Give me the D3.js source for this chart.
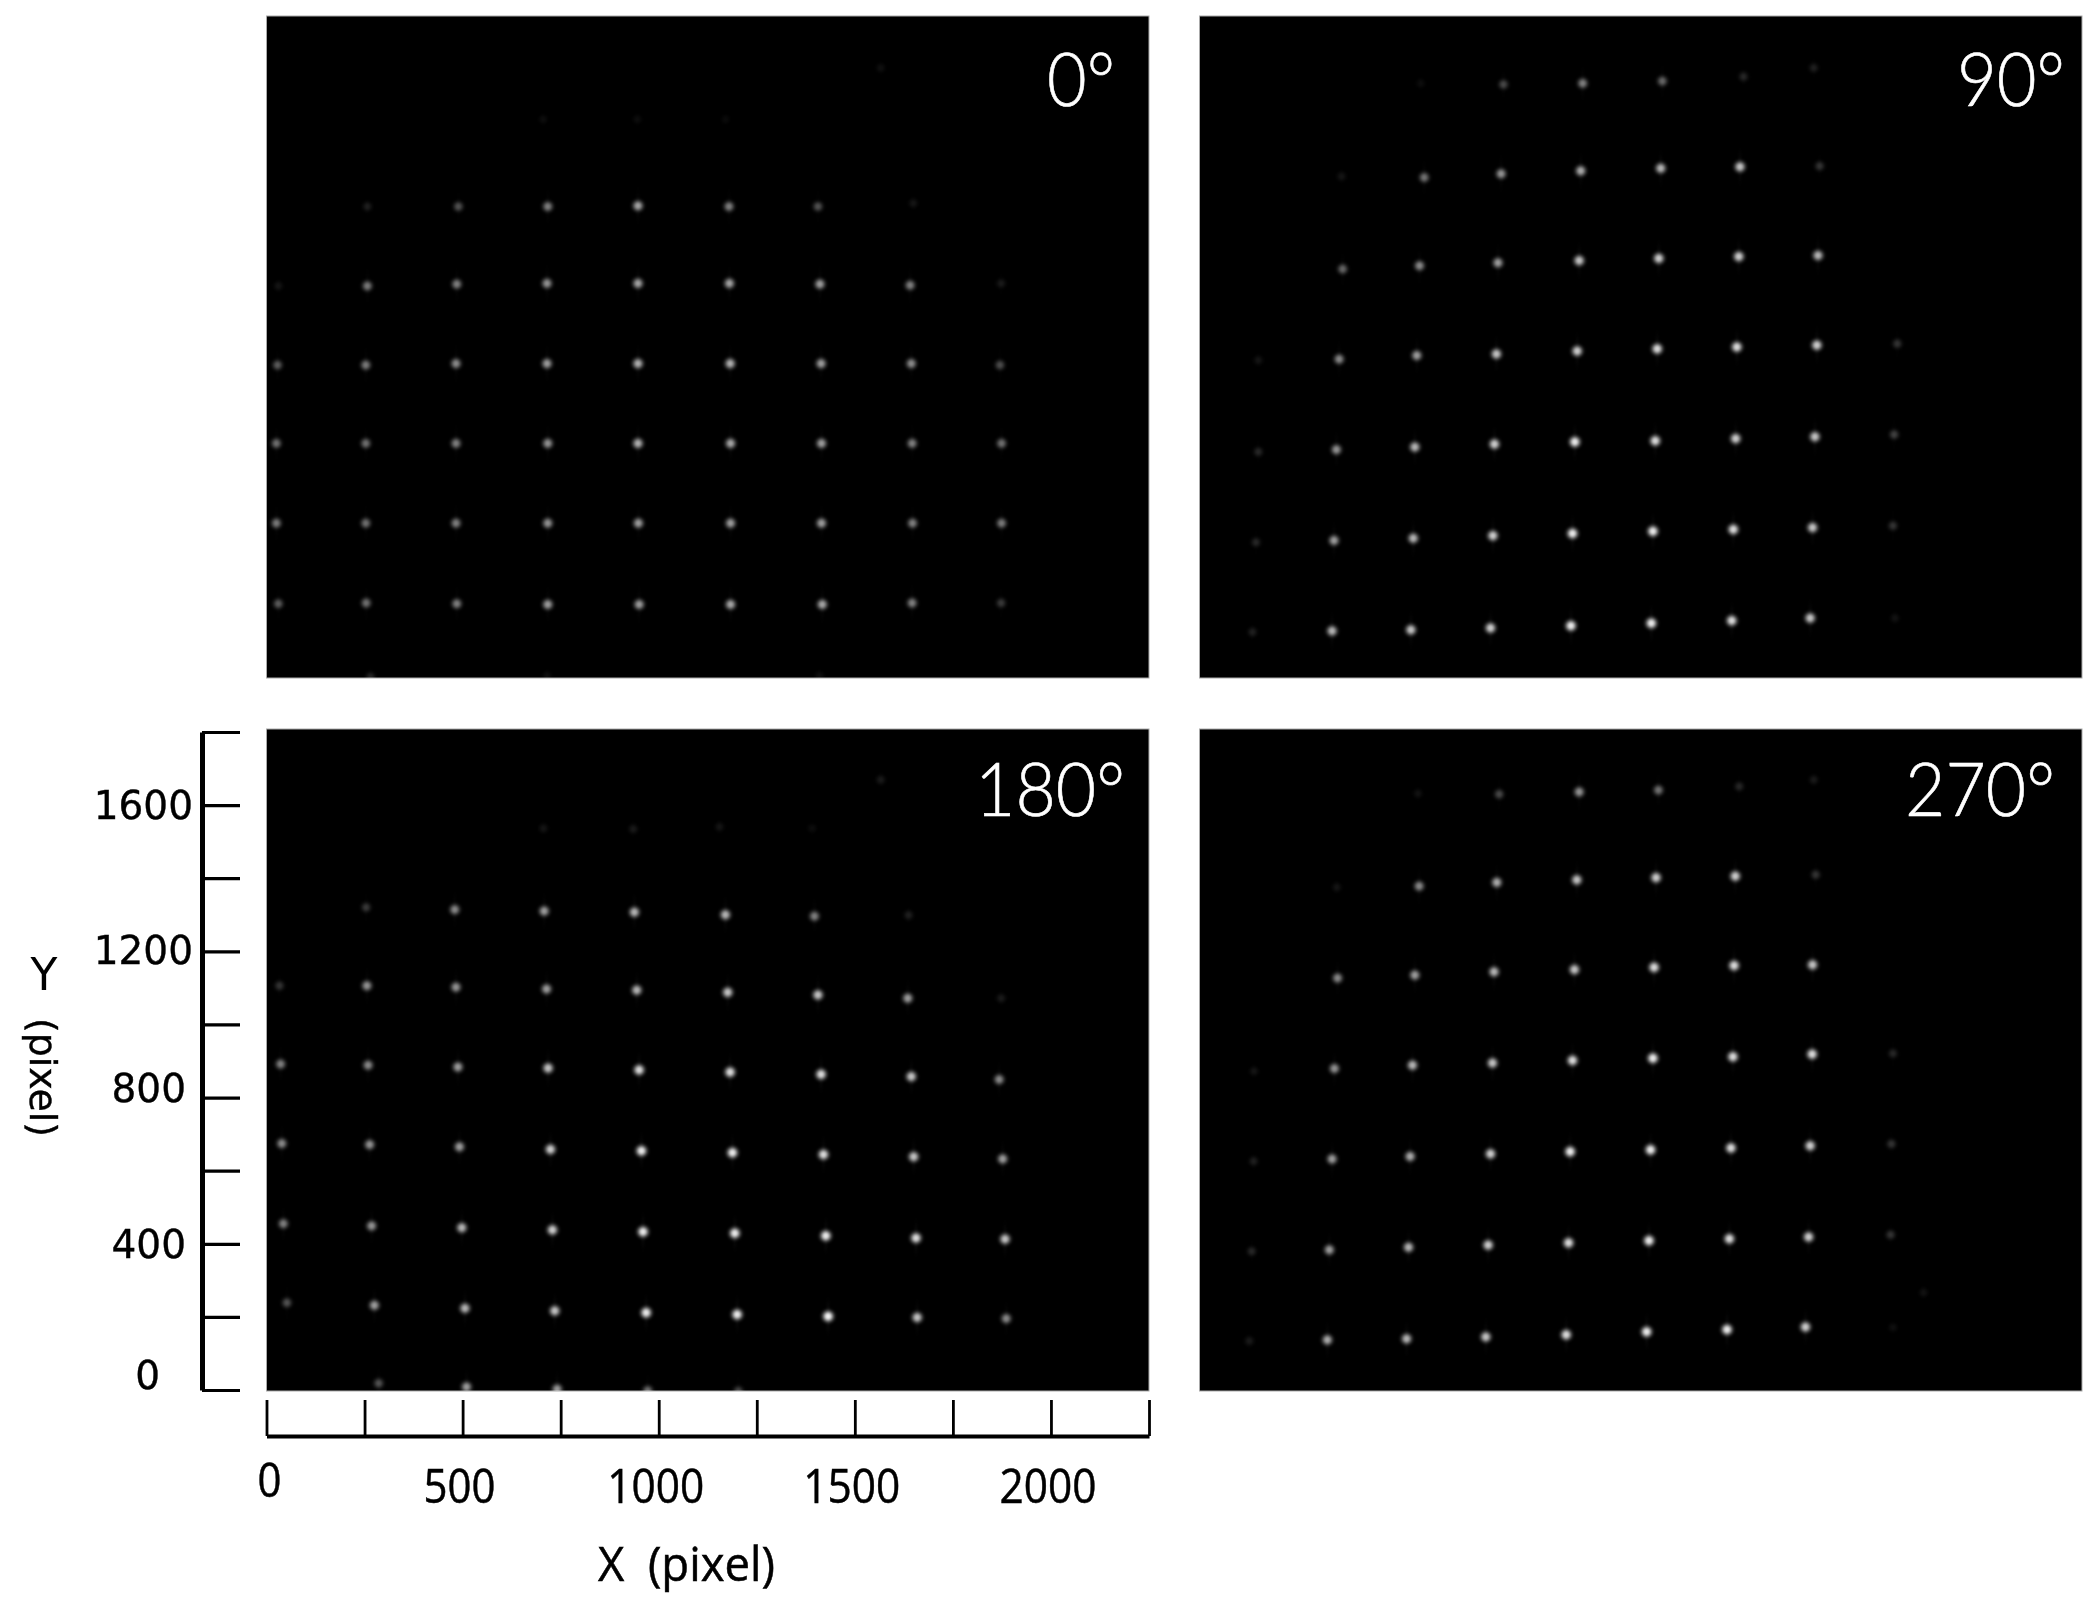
<!DOCTYPE html>
<html>
<head>
<meta charset="utf-8">
<script src="https://cdn.jsdelivr.net/npm/d3@7"></script>
<style>
  html, body { margin: 0; background: #fff; }
  svg { display: block; }
</style>
</head>
<body>
<div id="container"></div>
<script>
// spot values: [x pixel, y pixel, brightness]
const spots0 = [
  [705,1519,.05],[945,1519,.05],[1170,1519,.04],[1566,1659,.06],
  [257,1282,.12],[489,1282,.32],[717,1282,.5],[947,1284,.65],[1179,1282,.5],[1406,1282,.32],[1649,1291,.08],
  [30,1066,.08],[257,1066,.48],[485,1071,.5],[715,1073,.58],[947,1073,.65],[1180,1073,.65],[1411,1071,.62],[1641,1068,.5],[1873,1073,.1],
  [28,851,.36],[253,851,.48],[483,855,.55],[715,855,.62],[947,855,.7],[1182,855,.7],[1414,855,.62],[1644,855,.55],[1870,851,.3],
  [25,638,.44],[253,638,.44],[483,638,.5],[717,638,.58],[947,638,.7],[1183,638,.66],[1415,638,.62],[1646,638,.5],[1874,638,.44],
  [25,421,.48],[253,421,.44],[483,421,.5],[717,421,.58],[948,421,.62],[1183,421,.62],[1415,421,.62],[1647,421,.5],[1874,421,.48],
  [30,202,.36],[254,204,.44],[485,202,.5],[717,200,.62],[950,200,.62],[1183,200,.66],[1417,200,.66],[1646,204,.5],[1873,204,.22],
  [265,3,.15],[715,6,.06],[1410,6,.06]
];
const spots90 = [
  [564,1617,.05],[775,1614,.28],[977,1617,.5],[1180,1623,.4],[1387,1635,.15],[1566,1659,.12],
  [362,1364,.08],[573,1361,.45],[769,1371,.58],[972,1379,.68],[1176,1386,.72],[1378,1390,.78],[1581,1392,.2],
  [365,1112,.4],[561,1121,.54],[761,1129,.62],[968,1135,.78],[1171,1141,.82],[1375,1146,.82],[1577,1149,.72],
  [150,864,.08],[356,867,.54],[554,877,.62],[757,881,.78],[963,889,.82],[1167,895,.88],[1370,900,.88],[1574,905,.82],[1779,909,.2],
  [150,615,.15],[349,621,.58],[549,628,.72],[752,636,.82],[957,642,.95],[1162,645,.88],[1367,651,.82],[1569,656,.78],[1771,662,.25],
  [144,369,.15],[343,374,.62],[545,380,.72],[748,387,.82],[951,393,.95],[1156,399,.95],[1361,404,.88],[1563,409,.78],[1768,414,.2],
  [135,125,.12],[338,128,.72],[539,131,.78],[742,136,.82],[947,142,.95],[1152,149,.95],[1357,156,.88],[1557,163,.78],[1773,163,.07]
];
const spots180 = [
  [706,1530,.08],[935,1528,.1],[1155,1534,.08],[1391,1530,.05],[1566,1662,.1],
  [254,1315,.22],[480,1309,.54],[708,1305,.62],[938,1302,.72],[1170,1295,.72],[1397,1291,.5],[1637,1294,.12],
  [33,1102,.2],[256,1102,.58],[483,1098,.58],[714,1093,.62],[944,1090,.72],[1176,1084,.78],[1406,1077,.78],[1635,1068,.62],[1873,1068,.1],
  [36,889,.5],[259,886,.54],[488,881,.62],[718,878,.78],[950,873,.88],[1182,867,.88],[1414,861,.88],[1644,855,.78],[1868,847,.54],
  [39,673,.54],[263,670,.58],[492,664,.62],[724,657,.82],[956,653,.95],[1188,648,.95],[1420,643,.88],[1650,637,.78],[1877,631,.62],
  [43,455,.5],[268,449,.58],[498,444,.72],[729,438,.82],[960,433,.95],[1194,429,.95],[1426,422,.95],[1656,416,.88],[1883,413,.78],
  [52,240,.32],[275,233,.62],[506,225,.72],[735,218,.78],[968,213,.95],[1200,208,.95],[1432,203,1],[1659,200,.78],[1886,197,.54],
  [286,21,.32],[510,11,.62],[741,5,.62],[972,1,.45],[1203,0,.28]
];
const spots270 = [
  [557,1625,.07],[764,1623,.28],[968,1629,.58],[1170,1634,.45],[1376,1644,.15],[1566,1662,.1],
  [350,1370,.08],[560,1373,.54],[758,1383,.68],[962,1390,.78],[1164,1396,.82],[1366,1400,.82],[1571,1404,.2],
  [352,1123,.54],[549,1131,.62],[751,1140,.72],[956,1146,.78],[1159,1152,.88],[1363,1157,.88],[1563,1159,.78],
  [139,870,.08],[344,877,.58],[543,886,.72],[747,892,.78],[951,899,.88],[1156,905,.95],[1360,909,.88],[1562,916,.88],[1768,918,.15],
  [138,625,.12],[338,631,.62],[537,638,.68],[742,645,.82],[945,651,.95],[1150,656,.95],[1355,661,.88],[1557,667,.82],[1764,672,.2],
  [133,380,.15],[331,384,.62],[533,391,.72],[736,397,.82],[941,403,.88],[1146,409,.95],[1351,414,.88],[1553,419,.82],[1762,425,.2],
  [127,136,.1],[326,139,.68],[528,142,.72],[730,147,.78],[935,153,.88],[1140,161,.95],[1345,167,.95],[1545,174,.82],[1768,173,.06],
  [1846,268,.07]
];
const panelLabels = ["0°", "90°", "180°", "270°"];
const xTicks = [0, 250, 500, 750, 1000, 1250, 1500, 1750, 2000, 2250];
const yTicks = [0, 200, 400, 600, 800, 1000, 1200, 1400, 1600, 1800];
const xTickLabels = [0, 500, 1000, 1500, 2000];
const yTickLabels = [0, 400, 800, 1200, 1600];

const width = 2100;
const height = 1607;
const panelW = 882.5;
const panelH = 662;

const panels = [
  { spots: spots0, left: 266.5, top: 16, label: panelLabels[0], lx: 1047, ll: 68, by: 106 },
  { spots: spots90, left: 1199.5, top: 16, label: panelLabels[1], lx: 1957, ll: 108, by: 106 },
  { spots: spots180, left: 266.5, top: 729, label: panelLabels[2], lx: 975, ll: 150, by: 816 },
  { spots: spots270, left: 1199.5, top: 729, label: panelLabels[3], lx: 1905, ll: 150, by: 816 },
];

const svg = d3.select("#container").append("svg").attr("width", width).attr("height", height);
const defs = svg.append("defs");

const grad = defs.append("radialGradient").attr("id", "spot");
[[0, 1], [0.3, 0.9], [0.55, 0.42], [0.8, 0.1], [1, 0]].forEach(([o, a]) => {
  grad.append("stop").attr("offset", o).attr("stop-color", "#fff").attr("stop-opacity", a);
});

// soft edge of the camera image
defs.append("filter")
  .attr("id", "soft")
  .append("feGaussianBlur")
  .attr("stdDeviation", 0.9);

const x = d3.scaleLinear().domain([0, 2250]).range([0, panelW]);
const y = d3.scaleLinear().domain([0, 1800]).range([panelH, 0]);
const radius = d3.scaleSqrt().domain([0, 1]).range([6.5, 8.5]);

panels.forEach((p, i) => {
  const g = svg.append("g").attr("transform", `translate(${p.left},${p.top})`);
  defs.append("clipPath").attr("id", "clip" + i)
    .append("rect").attr("width", panelW).attr("height", panelH);

  g.append("rect")
    .attr("width", panelW)
    .attr("height", panelH)
    .attr("fill", "#000")
    .attr("stroke", "#aaa")
    .attr("stroke-width", 1);

  const spotLayer = g.append("g")
    .attr("clip-path", `url(#clip${i})`)
    .append("g")
    .attr("filter", "url(#soft)");

  // faint vertical streak through each spot
  spotLayer.selectAll("ellipse")
    .data(p.spots)
    .enter()
    .append("ellipse")
    .attr("cx", (d) => x(d[0]))
    .attr("cy", (d) => y(d[1]))
    .attr("rx", 2.5)
    .attr("ry", 24)
    .attr("fill", "url(#spot)")
    .attr("opacity", (d) => d[2] * 0.06);

  spotLayer.selectAll("circle")
    .data(p.spots)
    .enter()
    .append("circle")
    .attr("cx", (d) => x(d[0]))
    .attr("cy", (d) => y(d[1]))
    .attr("r", (d) => radius(d[2]))
    .attr("fill", "url(#spot)")
    .attr("opacity", (d) => d[2]);

  svg.append("text")
    .attr("x", p.lx)
    .attr("y", p.by)
    .attr("font-family", "Lato, 'Open Sans', sans-serif")
    .attr("font-weight", 300)
    .attr("font-size", 75)
    .attr("fill", "#fff")
    .attr("stroke", "#fff")
    .attr("stroke-width", 0.6)
    .attr("textLength", p.ll)
    .attr("lengthAdjust", "spacingAndGlyphs")
    .text(p.label);
});

// y axis, ticks point right towards the panel
const yAxisScale = d3.scaleLinear().domain([0, 1800]).range([1390, 732]);
const yAxis = svg.append("g")
  .attr("transform", "translate(202,0)")
  .call(d3.axisRight(yAxisScale).tickValues(yTicks).tickSize(38).tickSizeOuter(0).tickFormat(""));
yAxis.select(".domain").attr("stroke-width", 5).attr("stroke", "#000");
yAxis.selectAll(".tick line").attr("stroke-width", 3.2).attr("stroke", "#000");

// x axis, ticks point up towards the panel
const xAxisScale = d3.scaleLinear().domain([0, 2250]).range([266.5, 1149]);
const xAxis = svg.append("g")
  .attr("transform", "translate(0,1436)")
  .call(d3.axisTop(xAxisScale).tickValues(xTicks).tickSize(36).tickSizeOuter(0).tickFormat(""));
xAxis.select(".domain").attr("stroke-width", 4).attr("stroke", "#000");
xAxis.selectAll(".tick line").attr("stroke-width", 2.8).attr("stroke", "#000");

// tick labels sit a bit off their ticks in the original
const yLabelShift = { 0: -17, 400: -2, 800: -12, 1200: -3, 1600: -2 };
const yLabelRight = { 0: 160, 400: 186, 800: 186, 1200: 193, 1600: 193 };
svg.selectAll(".y-label")
  .data(yTickLabels)
  .enter()
  .append("text")
  .attr("class", "y-label")
  .attr("x", (d) => yLabelRight[d])
  .attr("y", (d) => yAxisScale(d) + yLabelShift[d] + 16)
  .attr("text-anchor", "end")
  .attr("font-family", "'DejaVu Sans', sans-serif")
  .attr("font-size", 39)
  .attr("fill", "#000")
  .attr("stroke", "#000")
  .attr("stroke-width", 0.4)
  .text((d) => d);

const xLabelWidth = { 0: 24, 500: 72, 1000: 97, 1500: 97, 2000: 97 };
svg.selectAll(".x-label")
  .data(xTickLabels)
  .enter()
  .append("text")
  .attr("class", "x-label")
  .attr("x", (d) => xAxisScale(d) - xLabelWidth[d] / 2 + (d === 0 ? 3 : -3))
  .attr("y", (d) => (d === 0 ? 1497 : 1503))
  .attr("font-family", "'Open Sans', sans-serif")
  .attr("font-size", 47)
  .attr("fill", "#000")
  .attr("stroke", "#000")
  .attr("stroke-width", 0.5)
  .attr("textLength", (d) => xLabelWidth[d])
  .attr("lengthAdjust", "spacingAndGlyphs")
  .text((d) => d);

svg.append("text")
  .attr("x", 598)
  .attr("y", 1581)
  .attr("font-family", "'Open Sans', sans-serif")
  .attr("font-size", 47)
  .attr("fill", "#000")
  .attr("stroke", "#000")
  .attr("stroke-width", 0.5)
  .attr("textLength", 177)
  .attr("lengthAdjust", "spacingAndGlyphs")
  .style("white-space", "pre")
  .text("X  (pixel)");

svg.append("text")
  .attr("x", 44)
  .attr("y", 990)
  .attr("text-anchor", "middle")
  .attr("font-family", "'DejaVu Sans', sans-serif")
  .attr("font-size", 44)
  .attr("fill", "#000")
  .text("Y");

svg.append("text")
  .attr("transform", "translate(30,1018) rotate(90)")
  .attr("font-family", "'DejaVu Sans', sans-serif")
  .attr("font-size", 38)
  .attr("fill", "#000")
  .attr("stroke", "#000")
  .attr("stroke-width", 0.4)
  .attr("textLength", 119)
  .attr("lengthAdjust", "spacingAndGlyphs")
  .text("(pixel)");
</script>
</body>
</html>
